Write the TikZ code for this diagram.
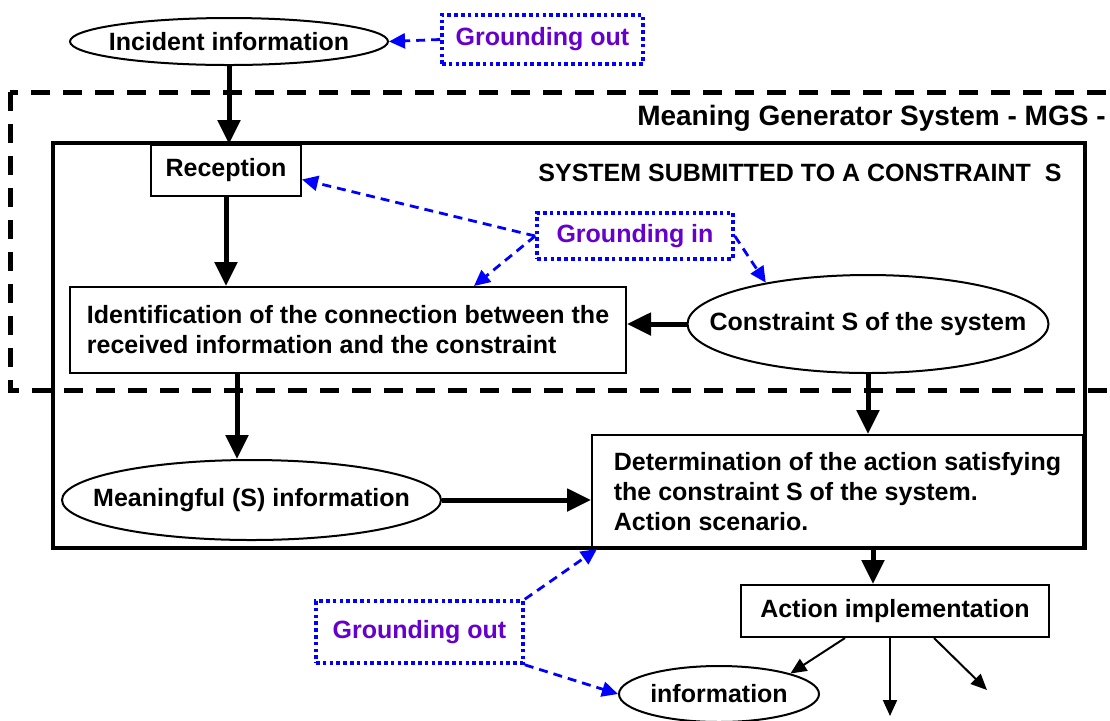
\documentclass[tikz,border=0pt]{standalone}
\usepackage{fontspec}
\setmainfont{Liberation Sans}
\usetikzlibrary{arrows.meta,shapes.geometric}

\definecolor{groundblue}{RGB}{0,0,255}
\definecolor{groundpurple}{RGB}{102,0,204}

\begin{document}
\begin{tikzpicture}[x=0.5pt, y=-0.5pt, font=\bfseries\fontsize{12.5}{15}\selectfont,
  box/.style = {draw, line width=1pt, rectangle, align=left},
  oval/.style = {draw, line width=1pt, ellipse, inner xsep=-20pt, inner ysep=0pt},
  ground/.style = {draw=groundblue, line width=1.8pt, dash pattern=on 1.8pt off 1.6pt, text=groundpurple},
  flow/.style = {line width=2.5pt, -{Triangle[width=11pt,length=12pt]}},
  thinflow/.style = {line width=1pt, -{Triangle[width=7pt,length=8pt]}},
  link/.style = {groundblue, line width=1.4pt, dash pattern=on 4.5pt off 3pt, -{Triangle[width=7.5pt,length=8pt]}}]
\useasboundingbox (0,0) rectangle (1110,720);

% the two frames
\draw[line width=2.5pt, dash pattern=on 9.5pt off 6.5pt] (10,92) rectangle (1140,390);
\draw[line width=2.2pt] (53,143) rectangle (1085,548);
\node[font=\bfseries\fontsize{14}{16}\selectfont, anchor=east, inner sep=0pt] (mgs) at (1106,118) {Meaning Generator System - MGS -};
\node[inner sep=0pt] (sys) at (800,173) {SYSTEM SUBMITTED TO A CONSTRAINT\ \ S};

\node[oval, minimum width=159pt, minimum height=23.5pt] (incident) at (229,41.5) {Incident information};
\node[ground, minimum width=100.5pt, minimum height=24.5pt] (groundTop) at (542.5,39.5) {Grounding out};
\node[box, minimum width=75pt, minimum height=25.5pt] (reception) at (226,170.5) {Reception};
\node[ground, minimum width=98pt, minimum height=23pt] (groundIn) at (635,236) {Grounding in};
\node[box, minimum width=278pt, minimum height=43pt] (ident) at (348,330) {Identification of the connection between the\\received information and the constraint};
\node[oval, minimum width=180.5pt, minimum height=49pt] (constraint) at (868,324) {Constraint S of the system};
\node[oval, minimum width=189.5pt, minimum height=40pt] (meaningful) at (251.5,500) {Meaningful (S) information};
\node[box, minimum width=245.5pt, minimum height=56.5pt] (determ) at (837.5,491.5) {Determination of the action satisfying\\the constraint S of the system.\\Action scenario.};
\node[box, minimum width=154pt, minimum height=26pt] (action) at (895,611) {Action implementation};
\node[ground, minimum width=103.5pt, minimum height=31pt] (groundOut) at (419.5,632) {Grounding out};
\node[oval, minimum width=100pt, minimum height=28pt] (info) at (719,694) {information};
\coordinate (outMid) at (890,716);
\coordinate (outRight) at (987,690);

% main flow
\draw[flow] (incident.south) -- (incident.south |- reception.north);
\draw[flow] (reception.south) -- (reception.south |- ident.north);
\draw[flow] (constraint.west) -- (constraint.west -| ident.east);
\path (ident.south west) ++(168,0) coordinate (identOut);
\draw[flow] (identOut) -- (identOut |- meaningful.north);
\draw[flow] (meaningful.east) -- (meaningful.east -| determ.west);
\draw[flow] (constraint.south) -- (constraint.south |- determ.north);
\path ([xshift=-11pt]action.north) coordinate (actionIn);
\draw[flow] (actionIn |- determ.south) -- (actionIn);
\draw[thinflow] ([xshift=-25pt]action.south) -- (info.north east);
\draw[thinflow] ([xshift=-2.5pt]action.south) -- (outMid);
\draw[thinflow] ([xshift=19.5pt]action.south) -- (outRight);

% grounding links
\draw[link] (groundTop.west) -- (incident.east);
\draw[link] (groundIn.west) -- ([yshift=-4.5pt]reception.east);
\draw[link] (groundIn.west) -- ([xshift=63pt]ident.north);
\draw[link] (groundIn.east) -- (constraint.158);
\draw[link] (groundOut.north east) -- ([xshift=3pt]determ.south west);
\draw[link] (groundOut.south east) -- (info.west);
\end{tikzpicture}
\end{document}
